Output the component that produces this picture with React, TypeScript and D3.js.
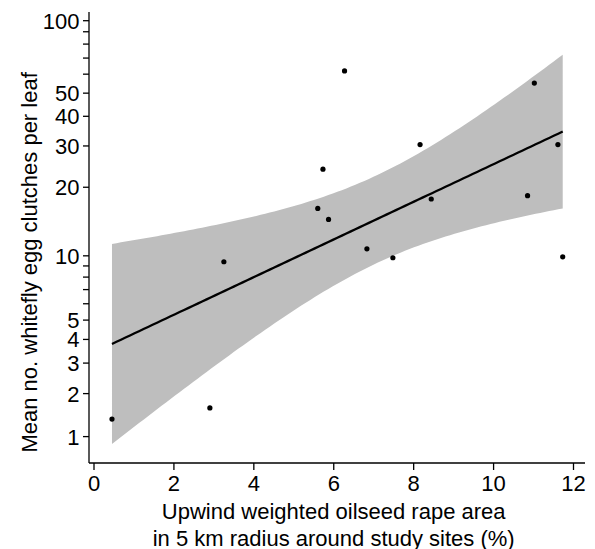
import React from "react";
import * as d3 from "d3";

// Data: x = upwind weighted OSR area (%), y = mean egg clutches per leaf
const xValues = [0.45, 2.9, 3.25, 5.6, 5.73, 5.87, 6.27, 6.83, 7.48, 8.16, 8.44, 10.85, 11.02, 11.61, 11.73];
const yValues = [1.36, 1.62, 9.4, 16.2, 23.9, 14.5, 61.9, 10.75, 9.8, 30.4, 17.8, 18.4, 55.1, 30.4, 9.9];

const xTicks = [0, 2, 4, 6, 8, 10, 12];
const yLabeledTicks = [1, 2, 3, 4, 5, 10, 20, 30, 40, 50, 100];
const yMinorTicks = [6, 7, 8, 9, 60, 70, 80, 90];

const xTitleLines = ["Upwind weighted oilseed rape area", "in 5 km radius around study sites (%)"];
const yTitle = "Mean no. whitefly egg clutches per leaf";

const T_CRIT = 2.16; // t(0.975, df = 13)

const W = 595;
const H = 549;
const FONT = "'Liberation Sans', Arial, Helvetica, sans-serif";

export default function App() {
  const x = d3.scaleLinear().domain([0, 12]).range([94, 573.5]);
  const y = d3.scaleSymlog().constant(1).domain([1, 100]).range([436.6, 20.7]);

  const axisLeft = 89;
  const axisBottom = 463;
  const axisTop = 12;
  const axisRight = 585;

  // OLS on log10(y + 1)
  const n = xValues.length;
  const tVals = yValues.map((v) => Math.log10(v + 1));
  const mx = d3.mean(xValues)!;
  const mt = d3.mean(tVals)!;
  let sxx = 0, sxy = 0;
  xValues.forEach((xv, i) => {
    sxx += (xv - mx) * (xv - mx);
    sxy += (xv - mx) * (tVals[i] - mt);
  });
  const slope = sxy / sxx;
  const intercept = mt - slope * mx;
  let sse = 0;
  xValues.forEach((xv, i) => {
    const r = tVals[i] - (intercept + slope * xv);
    sse += r * r;
  });
  const s = Math.sqrt(sse / (n - 2));

  const xMin = d3.min(xValues)!;
  const xMax = d3.max(xValues)!;
  const samples = d3.range(0, 101).map((k) => xMin + ((xMax - xMin) * k) / 100);
  const band = samples.map((xv) => {
    const fit = intercept + slope * xv;
    const hw = T_CRIT * s * Math.sqrt(1 / n + ((xv - mx) * (xv - mx)) / sxx);
    return { x: xv, fit, lo: fit - hw, hi: fit + hw };
  });
  const back = (t: number) => Math.pow(10, t) - 1;

  const areaGen = d3
    .area<{ x: number; lo: number; hi: number }>()
    .x((d) => x(d.x))
    .y0((d) => y(back(d.lo)))
    .y1((d) => y(back(d.hi)));

  const lineGen = d3
    .line<{ x: number; fit: number }>()
    .x((d) => x(d.x))
    .y((d) => y(back(d.fit)));

  return (
    <svg
      width={W}
      height={H}
      style={{ position: "absolute", left: 0, top: 0, background: "#fff" }}
      fontFamily={FONT}
    >
      <rect x={0} y={0} width={W} height={H} fill="#fff" />
      <path d={areaGen(band) || ""} fill="#bebebe" stroke="none" />
      <path d={lineGen(band) || ""} fill="none" stroke="#000" strokeWidth={2.3} />
      {xValues.map((xv, i) => (
        <circle key={i} cx={x(xv)} cy={y(yValues[i])} r={2.6} fill="#000" />
      ))}

      {/* axes */}
      <line x1={axisLeft} y1={axisTop} x2={axisLeft} y2={axisBottom} stroke="#000" strokeWidth={1.3} />
      <line x1={axisLeft} y1={axisBottom} x2={axisRight} y2={axisBottom} stroke="#000" strokeWidth={1.3} />

      {yLabeledTicks.map((v) => (
        <g key={"yt" + v}>
          <line x1={axisLeft - 6} x2={axisLeft} y1={y(v)} y2={y(v)} stroke="#000" strokeWidth={1.3} />
          <text x={79.5} y={y(v)} dy="0.36em" textAnchor="end" fontSize={22} fill="#000">
            {v}
          </text>
        </g>
      ))}
      {yMinorTicks.map((v) => (
        <line key={"ym" + v} x1={axisLeft - 6} x2={axisLeft} y1={y(v)} y2={y(v)} stroke="#000" strokeWidth={1.3} />
      ))}

      {xTicks.map((v) => (
        <g key={"xt" + v}>
          <line x1={x(v)} x2={x(v)} y1={axisBottom} y2={axisBottom + 7} stroke="#000" strokeWidth={1.3} />
          <text x={x(v)} y={490.5} textAnchor="middle" fontSize={22} fill="#000">
            {v}
          </text>
        </g>
      ))}

      {xTitleLines.map((t, i) => (
        <text key={"xl" + i} x={333.7} y={518.5 + i * 27} textAnchor="middle" fontSize={22} fill="#000">
          {t}
        </text>
      ))}

      <text
        transform={`translate(37,262.4) rotate(-90)`}
        textAnchor="middle"
        fontSize={22}
        fill="#000"
      >
        {yTitle}
      </text>
    </svg>
  );
}
